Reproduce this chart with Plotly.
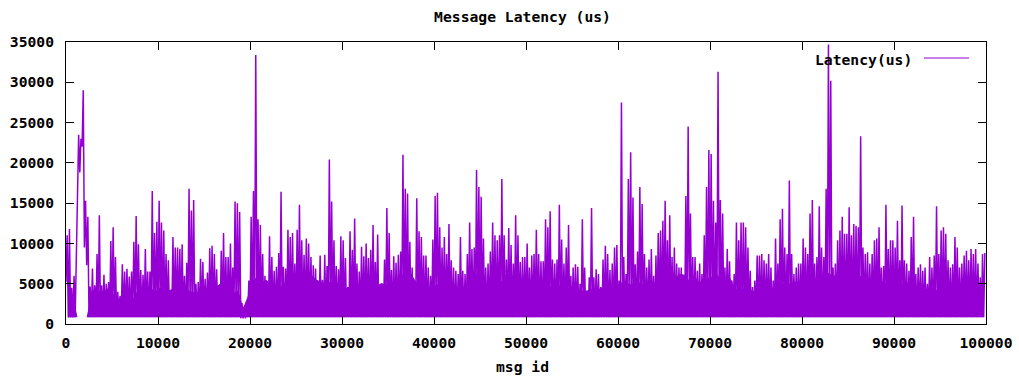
import plotly.graph_objects as go

# Message latency, summarised per bucket of 250 message ids:
# peak latency and floor latency (us) seen in each bucket.
BUCKET = 250

peak_us = [
    11000, 11800, 4500, 6000, 9000, 23500, 23000, 29000, 15300, 13300,
    4650, 6900, 4800, 8700, 13500, 4800, 6100, 5000, 5200, 10300,
    12000, 8300, 4000, 3500, 7400, 6500, 6850, 5900, 6500, 10200,
    13400, 9900, 6700, 6100, 9300, 6500, 6500, 16500, 11300, 12700,
    15300, 12600, 11600, 8700, 7900, 3700, 10800, 9500, 9500, 9300,
    9900, 6000, 7600, 16800, 14100, 15400, 5000, 5200, 8100, 7700,
    5600, 6400, 9400, 9700, 8700, 6800, 4000, 9100, 11300, 8300,
    8300, 10000, 7000, 15200, 15000, 13900, 2600, 2200, 2000, 5400,
    13300, 16500, 33400, 13000, 12300, 8700, 6000, 4800, 10900, 8300,
    6600, 7100, 8800, 16400, 7100, 6900, 11700, 10800, 11300, 7500,
    11700, 14800, 10400, 8600, 10600, 10000, 8300, 7300, 6900, 5200,
    8500, 5500, 8600, 7200, 20400, 15200, 10400, 7200, 6800, 10900,
    10400, 8200, 4600, 11500, 9200, 13100, 7500, 6500, 9600, 8400,
    10000, 8200, 9200, 12300, 7700, 11100, 4900, 5000, 8000, 14400,
    11300, 6700, 8400, 7600, 8600, 9000, 21000, 16800, 16200, 10200,
    7000, 4500, 15600, 11500, 10800, 8500, 8500, 7000, 6000, 10500,
    15900, 16300, 12000, 9500, 10800, 8700, 12400, 7900, 7000, 6600,
    6200, 10800, 6600, 6200, 8700, 12600, 9300, 9500, 19100, 17000,
    15800, 10600, 7000, 7500, 9000, 12600, 11000, 10400, 11000, 18000,
    11000, 8000, 11900, 9800, 7500, 13500, 11000, 7700, 8300, 8300,
    10000, 7000, 8500, 8700, 11700, 8700, 7800, 7800, 13000, 12000,
    14000, 8000, 7500, 8000, 14800, 10500, 7500, 9500, 12300, 6000,
    7000, 7400, 7100, 5000, 13000, 7000, 4000, 5800, 14400, 5800,
    6800, 6200, 4600, 8000, 9700, 8700, 6700, 7500, 9500, 9800,
    5400, 27500, 8300, 6200, 18000, 21300, 15700, 7400, 9000, 17000,
    14900, 8700, 7000, 8000, 9300, 6000, 8500, 11300, 11600, 12800,
    15300, 10400, 13500, 8300, 9500, 7500, 7000, 7000, 5800, 15900,
    24500, 13700, 8300, 8300, 6600, 7500, 6200, 11000, 17000, 21600,
    21100, 15300, 12600, 31300, 15400, 13700, 7000, 9300, 7800, 5400,
    6200, 12600, 10400, 12600, 12600, 12000, 9500, 6600, 4600, 5400,
    8500, 8500, 8700, 7900, 7500, 8700, 7000, 5400, 10600, 7500,
    13000, 14300, 9500, 8700, 17800, 8700, 6200, 7000, 7500, 7500,
    10600, 9500, 8700, 13700, 15400, 7500, 8300, 14600, 9500, 8300,
    16800, 34700, 30200, 7000, 7500, 10400, 11600, 13300, 11200, 11200,
    14500, 11000, 12400, 12200, 12000, 23300, 9500, 8700, 8900, 7500,
    8700, 10400, 10600, 12000, 7000, 7200, 14800, 9300, 10400, 10400,
    9500, 12800, 7900, 14700, 7900, 7500, 6600, 10800, 13300, 6200,
    7000, 7400, 6600, 7000, 5000, 8300, 7000, 8500, 14600, 8700,
    11600, 12000, 11200, 7900, 7000, 7400, 10800, 9500, 7000, 7500,
    8500, 9100, 7900, 9300, 8700, 9300, 7500, 5800, 8700, 8800,
]

floor_us = [
    5200, 800, 800, 800, 850, 19000, 18800, 22000, 9500, 7300,
    850, 850, 850, 850, 850, 850, 850, 850, 850, 850,
    850, 850, 850, 850, 850, 850, 850, 850, 850, 850,
    850, 850, 850, 850, 850, 850, 850, 850, 850, 850,
    850, 850, 850, 850, 850, 850, 850, 850, 850, 850,
    850, 850, 850, 850, 850, 850, 850, 850, 850, 850,
    850, 850, 850, 850, 850, 850, 850, 850, 850, 850,
    850, 850, 850, 850, 850, 850, 700, 700, 700, 850,
    850, 850, 850, 850, 850, 850, 850, 850, 850, 850,
    850, 850, 850, 850, 850, 850, 850, 850, 850, 850,
    850, 850, 850, 850, 850, 850, 850, 850, 850, 850,
    850, 850, 850, 850, 850, 850, 850, 850, 850, 850,
    850, 850, 850, 850, 850, 850, 850, 850, 850, 850,
    850, 850, 850, 850, 850, 850, 850, 850, 850, 850,
    850, 850, 850, 850, 850, 850, 850, 850, 850, 850,
    850, 850, 850, 850, 850, 850, 850, 850, 850, 850,
    850, 850, 850, 850, 850, 850, 850, 850, 850, 850,
    850, 850, 850, 850, 850, 850, 850, 850, 850, 850,
    850, 850, 850, 850, 850, 850, 850, 850, 850, 850,
    850, 850, 850, 850, 850, 850, 850, 850, 850, 850,
    850, 850, 850, 850, 850, 850, 850, 850, 850, 850,
    850, 850, 850, 850, 850, 850, 850, 850, 850, 850,
    850, 850, 850, 850, 850, 850, 850, 850, 850, 850,
    850, 850, 850, 850, 850, 850, 850, 850, 850, 850,
    850, 850, 850, 850, 850, 850, 850, 850, 850, 850,
    850, 850, 850, 850, 850, 850, 850, 850, 850, 850,
    850, 850, 850, 850, 850, 850, 850, 850, 850, 850,
    850, 850, 850, 850, 850, 850, 850, 850, 850, 850,
    850, 850, 850, 850, 850, 850, 850, 850, 850, 850,
    850, 850, 850, 850, 850, 850, 850, 850, 850, 850,
    850, 850, 850, 850, 850, 850, 850, 850, 850, 850,
    850, 850, 850, 850, 850, 850, 850, 850, 850, 850,
    850, 850, 850, 850, 850, 850, 850, 850, 850, 850,
    850, 850, 850, 850, 850, 850, 850, 850, 850, 850,
    850, 850, 850, 850, 850, 850, 850, 850, 850, 850,
    850, 850, 850, 850, 850, 850, 850, 850, 850, 850,
    850, 850, 850, 850, 850, 850, 850, 850, 850, 850,
    850, 850, 850, 850, 850, 850, 850, 850, 850, 850,
    850, 850, 850, 850, 850, 850, 850, 850, 850, 850,
    850, 850, 850, 850, 850, 850, 850, 850, 850, 850,
]

# Typical (dense) latency level per block of 500 message ids.
BLOCK = 500
typical_us = [
    5000, 3500, 850, 850, 850, 3800, 4400, 4000, 4200, 4600,
    3600, 3200, 3000, 3400, 3100, 4100, 4200, 4000, 4400, 4100,
    4600, 4300, 4200, 4500, 4100, 3800, 4200, 4000, 3900, 4300,
    4500, 4800, 4600, 5000, 4900, 4400, 3900, 4200, 2000, 3400,
    5400, 5800, 5200, 5500, 5000, 4600, 4900, 4400, 4800, 4600,
    5600, 5900, 5400, 6000, 5500, 5200, 5000, 5300, 4900, 5200,
    4600, 4300, 4800, 4900, 4500, 4700, 4900, 4600, 5100, 4900,
    5000, 5200, 5300, 6600, 6900, 5800, 4900, 4400, 4700, 4500,
    4900, 5100, 4600, 5000, 4700, 4500, 4600, 4800, 5800, 6400,
    5700, 5100, 5200, 5000, 5300, 5600, 5400, 4900, 5200, 5000,
    5100, 4900, 5300, 4800, 5000, 4600, 4500, 4900, 4700, 4400,
    4300, 4000, 4100, 4200, 4400, 4300, 4500, 4200, 4300, 4600,
    5100, 5400, 4900, 5100, 5200, 4900, 5000, 5300, 5100, 5200,
    5900, 6400, 5800, 6200, 6100, 5400, 5900, 5300, 5200, 5700,
    5900, 6200, 5400, 5800, 5600, 4400, 4200, 4500, 4300, 4100,
    4300, 4200, 4500, 4400, 4300, 4900, 5200, 5000, 5300, 5100,
    5600, 5400, 5800, 5500, 6000, 6400, 6100, 5900, 6200, 6000,
    6100, 5800, 6000, 5700, 5400, 5200, 5500, 5300, 5100, 5400,
    5100, 4900, 5300, 4800, 5000, 4400, 4200, 4500, 4300, 4200,
    4800, 4600, 4900, 4700, 4500, 4400, 4300, 4100, 4500, 4200,
]

x_ticks = [0, 10000, 20000, 30000, 40000, 50000, 60000, 70000, 80000, 90000, 100000]
y_ticks = [0, 5000, 10000, 15000, 20000, 25000, 30000, 35000]

PURPLE = "#9400D3"
FONT = dict(family="DejaVu Sans Mono", size=14.7, color="black", weight="bold")
BASE_US = 850

fig = go.Figure()

# dense body of the series: solid band from the floor up to the typical level
band_x = [i * BLOCK + BLOCK / 2 for i in range(len(typical_us))]
fig.add_trace(go.Scatter(
    x=band_x, y=[BASE_US] * len(band_x), mode="lines",
    line=dict(color=PURPLE, width=0), showlegend=False, hoverinfo="skip",
))
fig.add_trace(go.Scatter(
    x=band_x, y=typical_us, mode="lines", fill="tonexty", fillcolor=PURPLE,
    line=dict(color=PURPLE, width=0), showlegend=False, hoverinfo="skip",
))

# each bucket is traced floor -> peak, like the raw per-message line
msg_id, latency = [], []
for i, (lo, hi) in enumerate(zip(floor_us, peak_us)):
    msg_id += [i * BUCKET, i * BUCKET + BUCKET / 2]
    latency += [lo, hi]

fig.add_trace(go.Scatter(
    x=msg_id, y=latency, mode="lines", name="Latency(us)",
    line=dict(color=PURPLE, width=1.5), showlegend=False,
))

axis_common = dict(
    showline=True, linecolor="black", linewidth=1, mirror="allticks",
    ticks="inside", ticklen=8, tickcolor="black", tickwidth=1,
    showgrid=False, zeroline=False, tickfont=FONT, tickformat="d",
    automargin=False,
)

fig.update_layout(
    width=1019, height=378,
    margin=dict(l=66, r=33, t=42, b=54, autoexpand=False),
    paper_bgcolor="white", plot_bgcolor="white",
    title=dict(text="Message Latency (us)", font=FONT, x=0.5128, xref="container",
               xanchor="center", y=1 - 17 / 378, yref="container", yanchor="middle"),
    xaxis=dict(range=[0, 100000], tickvals=x_ticks, ticklabelstandoff=5, **axis_common),
    yaxis=dict(range=[0, 35000], tickvals=y_ticks, ticklabelstandoff=8, **axis_common),
    showlegend=False,
)

# x-axis caption
fig.add_annotation(text="msg id", xref="paper", yref="paper", x=0.496, y=0,
                   xanchor="center", yanchor="middle", yshift=-42,
                   showarrow=False, font=FONT)

# key: label to the left of a line sample, top right inside the frame
fig.add_annotation(text="Latency(us)", xref="paper", yref="paper",
                   x=(914 - 66) / 920, y=1 - 17 / 282, xanchor="right", yanchor="middle",
                   showarrow=False, font=FONT)
fig.add_shape(type="line", xref="paper", yref="paper",
              x0=(924 - 66) / 920, x1=(969 - 66) / 920,
              y0=1 - 16 / 282, y1=1 - 16 / 282,
              line=dict(color=PURPLE, width=1))

fig.write_html("out.html")
